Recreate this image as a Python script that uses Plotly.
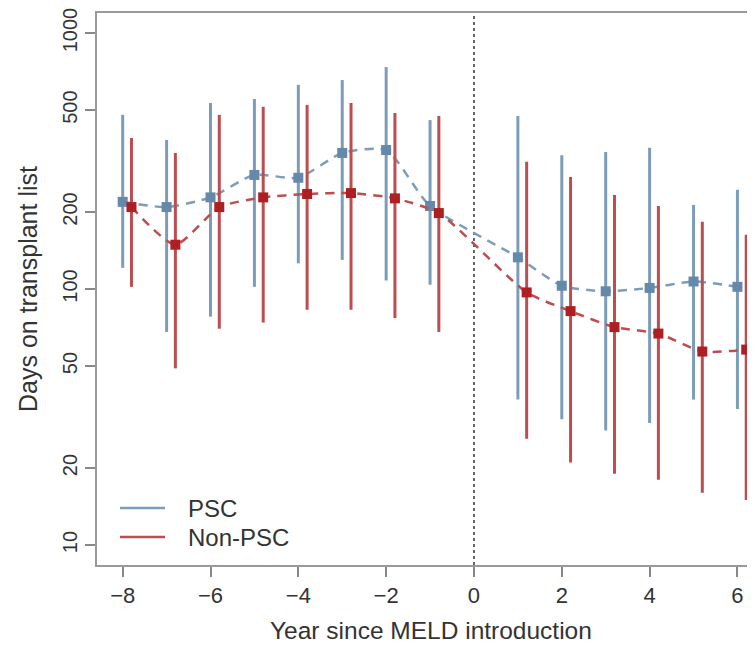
import plotly.graph_objects as go
import numpy as np

# Data
years = [-8, -7, -6, -5, -4, -3, -2, -1, 1, 2, 3, 4, 5, 6]
psc_mid = [219, 209, 228, 279, 272, 340, 349, 211, 133, 103, 98, 101, 107, 102]
psc_lo = [121, 68, 78, 102, 126, 130, 108, 104, 37, 31, 28, 30, 37, 34]
psc_hi = [479, 382, 533, 552, 627, 655, 736, 457, 474, 333, 343, 356, 213, 244]
non_mid = [209, 149, 209, 228, 235, 237, 226, 198, 97, 82, 71, 67, 57, 58]
non_lo = [102, 49, 70, 74, 83, 83, 77, 68, 26, 21, 19, 18, 16, 15]
non_hi = [389, 340, 479, 515, 524, 533, 487, 474, 314, 274, 233, 211, 183, 163]
series_names = ["PSC", "Non-PSC"]
y_ticks = [10, 20, 50, 100, 200, 500, 1000]
x_ticks = [-8, -6, -4, -2, 0, 2, 4, 6]

BLUE_M = "#6589aa"
BLUE_B = "#7c9dba"
RED_M = "#ad1f22"
RED_B = "#bd4d4f"
FONT_COL = "#333333"

W, H = 755, 647
OFF = 8  # page body margin offset
# target page-pixel plot box: left 97, top 13, bottom 565, right 755
ML = 97 - OFF
MT = 13 - OFF
MB = H - (565 - OFF)
MR = W - (755 - OFF)
PW = W - ML - MR
PH = H - MT - MB


def px_x(px):
    return (px - OFF - ML) / PW


def px_y(py):
    return (H - MB - (py - OFF)) / PH


dodge = 0.2
fig = go.Figure()


def add_series(xs, mid, lo, hi, mcol, bcol):
    mid = np.array(mid, float)
    lo = np.array(lo, float)
    hi = np.array(hi, float)
    fig.add_trace(go.Scatter(
        x=xs, y=mid, mode="lines", showlegend=False, hoverinfo="skip",
        line=dict(color=bcol, width=2.5, dash="9px,7px", shape="spline", smoothing=0.6),
    ))
    fig.add_trace(go.Scatter(
        x=xs, y=mid, mode="markers", showlegend=False,
        marker=dict(symbol="square", size=10, color=mcol),
        error_y=dict(type="data", symmetric=False, array=hi - mid, arrayminus=mid - lo,
                     color=bcol, thickness=3, width=0),
    ))


add_series(years, psc_mid, psc_lo, psc_hi, BLUE_M, BLUE_B)
add_series([y + dodge for y in years], non_mid, non_lo, non_hi, RED_M, RED_B)

fig.add_shape(type="line", x0=0, x1=0, y0=0, y1=1, xref="x", yref="paper",
              line=dict(color="#555555", width=1.8, dash="dot"), layer="below")

# manual legend
for i, (name, col) in enumerate(zip(series_names, [BLUE_B, RED_B])):
    yy = px_y(508 + 29 * i)
    fig.add_shape(type="line", xref="paper", yref="paper", x0=px_x(120), x1=px_x(165),
                  y0=yy, y1=yy, line=dict(color=col, width=2.5))
    fig.add_annotation(xref="paper", yref="paper", x=px_x(186), y=yy, text=name,
                       showarrow=False, xanchor="left", yanchor="middle",
                       font=dict(size=24, color=FONT_COL))

# axis titles
fig.add_annotation(xref="paper", yref="paper", x=px_x(431), y=px_y(630),
                   text="Year since MELD introduction", showarrow=False,
                   xanchor="center", yanchor="middle", font=dict(size=24.5, color=FONT_COL))
fig.add_annotation(xref="paper", yref="paper", x=px_x(28), y=px_y(289),
                   text="Days on transplant list", showarrow=False, textangle=-90,
                   xanchor="center", yanchor="middle", font=dict(size=25, color=FONT_COL))

fig.update_layout(
    width=W, height=H,
    margin=dict(l=ML, r=MR, t=MT, b=MB),
    paper_bgcolor="white", plot_bgcolor="white",
    font=dict(family="Liberation Sans, Arial, sans-serif", size=22, color=FONT_COL),
    showlegend=False,
    xaxis=dict(range=[-8.585, 6.4], tickvals=x_ticks,
               ticktext=[str(v).replace("-", "\u2212") for v in x_ticks],
               showgrid=False, zeroline=False, ticks="outside", ticklen=10, tickwidth=1.5,
               tickcolor="#888888", showline=True, linecolor="#999999", linewidth=2, mirror=True,
               tickfont=dict(size=22), automargin=False, ticklabeloverflow="allow"),
    yaxis=dict(type="log", range=[np.log10(8.36), np.log10(1197)], tickvals=y_ticks,
               ticktext=[str(v) for v in y_ticks], tickangle=-90,
               showgrid=False, zeroline=False, ticks="outside", ticklen=10, tickwidth=1.5,
               tickcolor="#888888", showline=True, linecolor="#999999", linewidth=2, mirror=True,
               tickfont=dict(size=20), automargin=False, ticklabeloverflow="allow"),
)

fig.write_html("out.html")
